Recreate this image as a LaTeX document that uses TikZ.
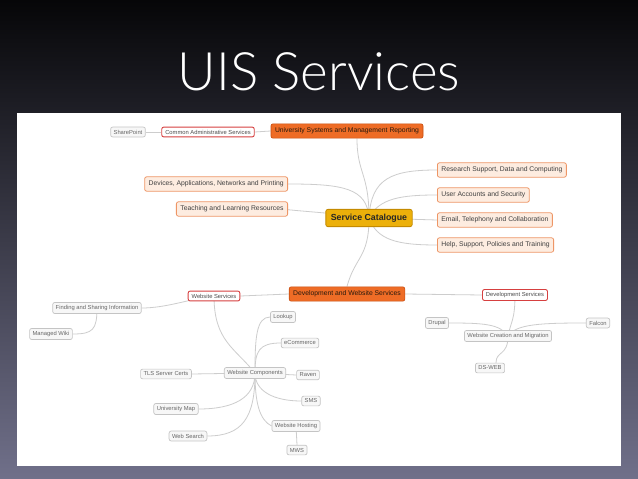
\documentclass[tikz,border=0pt]{standalone}
\usepackage{fontspec}
\setmainfont{Liberation Sans}
\newfontfamily\titlefont{Lato Light}
\usetikzlibrary{arrows.meta}
\definecolor{slidetop}{RGB}{6,6,8}
\definecolor{slidemid}{RGB}{40,40,52}
\definecolor{slidebot}{RGB}{112,112,138}
\definecolor{mapline}{RGB}{205,205,205}
\definecolor{hubfill}{RGB}{236,176,10}
\definecolor{hubdark}{RGB}{196,138,0}
\definecolor{brfill}{RGB}{238,108,38}
\definecolor{brdark}{RGB}{200,78,18}
\definecolor{topfill}{RGB}{253,236,224}
\definecolor{topdark}{RGB}{238,150,102}
\definecolor{grpdark}{RGB}{214,64,64}
\definecolor{leafdark}{RGB}{196,196,196}
\pgfdeclarelayer{back}
\pgfdeclarelayer{links}
\pgfsetlayers{back,links,main}
\tikzset{
  every picture/.style={line join=round, line cap=round},
  hub/.style={draw=hubdark, fill=hubfill, rounded corners=2pt, line width=0.8pt,
    font=\fontsize{8.8}{9}\selectfont\bfseries, text=black!85, inner xsep=5pt, inner ysep=4.5pt},
  mainbr/.style={draw=brdark, fill=brfill, rounded corners=2pt, line width=0.6pt,
    font=\fontsize{6.8}{7}\selectfont, text=black!80!brown, inner xsep=4pt, inner ysep=4pt},
  topic/.style={draw=topdark, fill=topfill, rounded corners=2pt, line width=0.8pt,
    font=\fontsize{6.8}{7}\selectfont, text=black!75, inner xsep=4pt, inner ysep=4pt},
  group/.style={draw=grpdark, fill=white, rounded corners=2pt, line width=0.9pt,
    font=\fontsize{5.8}{6}\selectfont, text=black!70, inner xsep=3.5pt, inner ysep=2.8pt},
  leaf/.style={draw=leafdark, fill=black!3, rounded corners=2pt, line width=0.7pt,
    font=\fontsize{5.8}{6}\selectfont, text=black!60, inner xsep=3pt, inner ysep=2.8pt},
  link/.style={draw=mapline, line width=0.8pt},
}

\begin{document}
\begin{tikzpicture}[x=1pt,y=-1pt]
\useasboundingbox (0,0) rectangle (638,479);
\begin{pgfonlayer}{back}
\shade[top color=slidetop, middle color=slidemid, bottom color=slidebot] (0,0) rectangle (638,479);
\fill[white] (17,113) rectangle (621,466);
\end{pgfonlayer}
\node[text=white, font=\titlefont\fontsize{53}{53}\selectfont] (title) at (319,72) {UIS Services};

% central topic and main branches
\node[hub] (hub) at (369,218) {Service Catalogue};
\node[mainbr] (univ) at (347,131) {University Systems and Management Reporting};
\node[mainbr] (devweb) at (347,294) {Development and Website Services};
\node[topic, anchor=east] (dev) at (288,184) {Devices, Applications, Networks and Printing};
\node[topic, anchor=east] (teach) at (288,209) {Teaching and Learning Resources};
\node[topic, anchor=west] (res) at (437,170) {Research Support, Data and Computing};
\node[topic, anchor=west] (user) at (437,195) {User Accounts and Security};
\node[topic, anchor=west] (mail) at (437,220) {Email, Telephony and Collaboration};
\node[topic, anchor=west] (help) at (437,245) {Help, Support, Policies and Training};

% sub groups
\node[group] (cas) at (208,132) {Common Administrative Services};
\node[group] (websvc) at (214,296) {Website Services};
\node[group] (devsvc) at (515,295) {Development Services};

% leaves
\node[leaf] (sp) at (128,132) {SharePoint};
\node[leaf] (find) at (97,308) {Finding and Sharing Information};
\node[leaf] (wiki) at (51,334) {Managed Wiki};
\node[leaf] (wcomp) at (255,373) {Website Components};
\node[leaf] (lookup) at (283,317) {Lookup};
\node[leaf] (ecom) at (300,343) {eCommerce};
\node[leaf] (tls) at (166,374) {TLS Server Certs};
\node[leaf] (raven) at (308,375) {Raven};
\node[leaf] (sms) at (311,401) {SMS};
\node[leaf] (umap) at (176,409) {University Map};
\node[leaf] (host) at (296,426) {Website Hosting};
\node[leaf] (wsearch) at (188,436) {Web Search};
\node[leaf] (mws) at (297,450) {MWS};
\node[leaf] (wcm) at (508,336) {Website Creation and Migration};
\node[leaf] (drupal) at (437,323) {Drupal};
\node[leaf] (falcon) at (598,323) {Falcon};
\node[leaf] (dsweb) at (490,368) {DS-WEB};

\begin{pgfonlayer}{links}
% from the centre
\draw[link] (hub.center) .. controls +(0,-45) and +(0,35) .. ([xshift=10]univ.south);
\draw[link] (hub.center) .. controls +(-2,-30) and +(55,0) .. (dev.east);
\draw[link] (hub.center) .. controls +(-20,-4) and +(-20,0) .. (teach.east);
\draw[link] (hub.center) .. controls +(2,-40) and +(-45,0) .. (res.west);
\draw[link] (hub.center) .. controls +(10,-20) and +(-35,0) .. (user.west);
\draw[link] (hub.center) -- (mail.west);
\draw[link] (hub.center) .. controls +(8,22) and +(-40,0) .. (help.west);
\draw[link] (hub.center) .. controls +(0,40) and +(8,-30) .. (devweb.north);
% upper branch
\draw[link] (univ.west) -- (cas.east);
\draw[link] (cas.west) -- (sp.east);
% lower branch
\draw[link] (devweb.west) -- (websvc.east);
\draw[link] (devweb.east) -- (devsvc.west);
\draw[link] (websvc.center) .. controls +(-25,3) and +(25,0) .. (find.east);
\draw[link] (find.center) .. controls +(0,22) and +(20,0) .. (wiki.east);
\draw[link] (websvc.center) .. controls +(0,45) and +(-20,-25) .. (wcomp.center);
\draw[link] (wcomp.center) .. controls +(0,-35) and +(-14,0) .. (lookup.west);
\draw[link] (wcomp.center) .. controls +(0,-22) and +(-22,0) .. (ecom.west);
\draw[link] (wcomp.center) -- (raven.west);
\draw[link] (wcomp.center) -- (tls.east);
\draw[link] (wcomp.center) .. controls +(0,18) and +(-28,0) .. (sms.west);
\draw[link] (wcomp.center) .. controls +(0,30) and +(-12,-6) .. (host.west);
\draw[link] (wcomp.center) .. controls +(0,25) and +(35,0) .. (umap.east);
\draw[link] (wcomp.center) .. controls +(0,45) and +(35,0) .. (wsearch.east);
\draw[link] (host.center) -- (mws.north);
\draw[link] (devsvc.center) .. controls +(0,25) and +(3,-15) .. (wcm.center);
\draw[link] (wcm.center) .. controls +(-8,-12) and +(35,0) .. (drupal.east);
\draw[link] (wcm.center) .. controls +(8,-12) and +(-45,0) .. (falcon.west);
\draw[link] (wcm.center) .. controls +(0,20) and +(0,-12) .. ([xshift=6]dsweb.north);
\end{pgfonlayer}
\end{tikzpicture}
\end{document}
